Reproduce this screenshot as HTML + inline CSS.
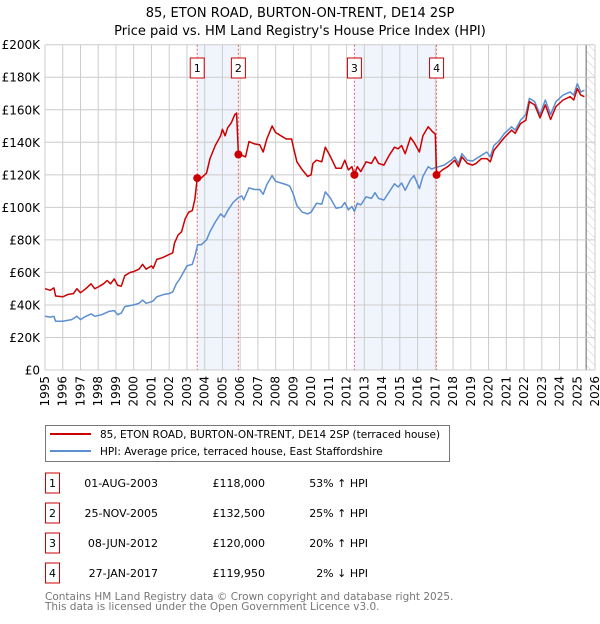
<!DOCTYPE html>
<html><head><meta charset="utf-8">
<style>
body{margin:0;background:#fff;font-family:"DejaVu Sans","Liberation Sans",sans-serif;}
svg text{font-family:"DejaVu Sans","Liberation Sans",sans-serif;}
</style></head>
<body>
<svg id="chart" width="600" height="620" xmlns="http://www.w3.org/2000/svg">
<defs>
<pattern id="hatch" width="6" height="6" patternUnits="userSpaceOnUse" patternTransform="rotate(-45)">
<line x1="0" y1="0" x2="0" y2="6" stroke="#ccc" stroke-width="1"/>
</pattern>
</defs>
<text x="300" y="17" font-size="13" text-anchor="middle">85, ETON ROAD, BURTON-ON-TRENT, DE14 2SP</text>
<text x="300" y="35" font-size="13" text-anchor="middle">Price paid vs. HM Land Registry's House Price Index (HPI)</text>
<g id="plot"></g>
<g>
<rect x="45.5" y="425.5" width="404" height="36" fill="#fff" stroke="#777"/>
<line x1="50" y1="434" x2="91" y2="434" stroke="#cc0000" stroke-width="2"/>
<text x="100" y="438" font-size="10.5">85, ETON ROAD, BURTON-ON-TRENT, DE14 2SP (terraced house)</text>
<line x1="50" y1="451" x2="91" y2="451" stroke="#5b8fd0" stroke-width="2"/>
<text x="100" y="455" font-size="10.5">HPI: Average price, terraced house, East Staffordshire</text>
</g>
<g id="table" font-size="11"></g>
<text x="45" y="600" font-size="10.5" fill="#777">Contains HM Land Registry data © Crown copyright and database right 2025.</text>
<text x="45" y="610" font-size="10.5" fill="#777">This data is licensed under the Open Government Licence v3.0.</text>
</svg>
<script>
const yearTicks=[1995,1996,1997,1998,1999,2000,2001,2002,2003,2004,2005,2006,2007,2008,2009,2010,2011,2012,2013,2014,2015,2016,2017,2018,2019,2020,2021,2022,2023,2024,2025,2026];
const valueTicks=[0,20,40,60,80,100,120,140,160,180,200];
const valueLabels=["£0","£20K","£40K","£60K","£80K","£100K","£120K","£140K","£160K","£180K","£200K"];
const redT=[1995.0,1995.3,1995.5,1995.6,1996,1996.3,1996.6,1996.8,1997,1997.3,1997.6,1997.8,1998,1998.3,1998.5,1998.7,1998.9,1999.1,1999.3,1999.5,1999.8,2000,2000.3,2000.5,2000.7,2001,2001.1,2001.3,2001.6,2002,2002.2,2002.3,2002.5,2002.7,2002.9,2003.1,2003.3,2003.45,2003.58,2003.8,2004.1,2004.3,2004.6,2004.9,2005.0,2005.15,2005.3,2005.5,2005.7,2005.8,2005.9,2006.1,2006.3,2006.5,2006.8,2007.1,2007.3,2007.5,2007.8,2008,2008.3,2008.6,2008.9,2009.0,2009.2,2009.5,2009.8,2010,2010.1,2010.3,2010.6,2010.8,2011.1,2011.4,2011.7,2011.9,2012.1,2012.3,2012.44,2012.6,2012.8,2013.1,2013.4,2013.6,2013.8,2014.1,2014.4,2014.7,2014.9,2015.1,2015.3,2015.6,2015.8,2016.1,2016.3,2016.6,2016.8,2017.0,2017.07,2017.4,2017.7,2017.9,2018.1,2018.3,2018.5,2018.8,2019.1,2019.3,2019.6,2019.9,2020.1,2020.3,2020.6,2020.9,2021.3,2021.5,2021.8,2022.1,2022.3,2022.6,2022.9,2023.2,2023.5,2023.8,2024.2,2024.6,2024.8,2025.0,2025.2,2025.4];
const redV=[50,49,50.5,45.5,45,46.5,47,50,47.5,50,53,50,51,53,55,53,56,52,51.5,58,60,60.5,62,65,62,64,62.5,68,69,71,72,78,83,85,93,97,98,105,118,118,121,130,138,144,148,144,149,152,157,158,132.5,132,131,140.5,139,138.5,134,142,150,146,144,142,142,137,128,123,119,120,127,129,128,137,131,124,124,129,123,125,120,125,122,128,127,131,127,126,132,137,136,138,133,143,140,134,144,149.5,147,145,119.95,123,125,127,129,125,131,127,126,127,130,130,128,135,139,143,147.5,145.5,151.5,153.5,165,163,155,163,154,162,166,168,166,173,169,168];
const blueT=[1995.0,1995.3,1995.5,1995.6,1996,1996.5,1996.8,1997,1997.3,1997.6,1997.8,1998.2,1998.6,1998.9,1999.1,1999.3,1999.5,2000,2000.3,2000.5,2000.7,2001,2001.1,2001.3,2001.7,2002,2002.2,2002.4,2002.6,2002.8,2003.0,2003.3,2003.45,2003.6,2003.8,2004.1,2004.3,2004.6,2004.9,2005.1,2005.3,2005.6,2005.9,2006.1,2006.2,2006.5,2006.8,2007.1,2007.3,2007.5,2007.8,2008,2008.3,2008.6,2008.8,2009.0,2009.2,2009.5,2009.8,2010,2010.3,2010.6,2010.8,2011.1,2011.4,2011.7,2011.9,2012.1,2012.3,2012.44,2012.6,2012.8,2013.1,2013.4,2013.6,2013.8,2014.1,2014.4,2014.7,2014.9,2015.1,2015.3,2015.6,2015.8,2016.1,2016.3,2016.6,2016.8,2017.0,2017.2,2017.5,2017.7,2017.9,2018.1,2018.3,2018.5,2018.8,2019.1,2019.3,2019.6,2019.9,2020.1,2020.3,2020.6,2020.9,2021.3,2021.5,2021.8,2022.1,2022.3,2022.6,2022.9,2023.2,2023.5,2023.8,2024.2,2024.6,2024.8,2025.0,2025.2,2025.4];
const blueV=[33,32.5,33,30,30,31,33,31,33,34.5,33,34,36,36.5,34,35,39,40,41,43,41,42,42.5,45,46.5,47,48,53,56,60,64,65,70,77,77,80,85,91,96,94,98,103,106,107,104.5,112,111,111,108,114,119.5,116,115,114,113,108,101,97,96,97,102.5,102,109.5,105.5,99.5,100,103,98.5,100.5,97.5,102.5,101.5,106.5,105.5,109,105.5,104.5,109.5,114.5,112.5,115,110.5,117,119.5,111.5,119,125,123.5,124.5,125,126,127.5,129,131,127,133,129,128.5,130,132,134,131,138,141,145.5,149.5,147.5,153.5,157,167,165,157,166,157,165,169,171,169,176,171,172];
const saleLabels=["1","2","3","4"];
const saleT=[2003.58,2005.9,2012.44,2017.07];
const saleV=[118,132.5,120,119.95];
const saleDates=["01-AUG-2003","25-NOV-2005","08-JUN-2012","27-JAN-2017"];
const salePrices=["£118,000","£132,500","£120,000","£119,950"];
const saleHpi=["53% ↑ HPI","25% ↑ HPI","20% ↑ HPI","2% ↓ HPI"];

const NS="http://www.w3.org/2000/svg";
const X0=45,X1=595,Y0=370,Y1=44.7;
const x=t=>X0+(t-1995)/(2026-1995)*(X1-X0);
const y=v=>Y0-v/200*(Y0-Y1);
const plot=document.getElementById('plot');
function mk(tag,attrs,parent){const e=document.createElementNS(NS,tag);for(const k in attrs)e.setAttribute(k,attrs[k]);(parent||plot).appendChild(e);return e;}

for(let i=0;i<saleT.length;i+=2){
  const r=mk('rect',{x:x(saleT[i]),y:Y1,width:x(saleT[i+1])-x(saleT[i]),height:Y0-Y1,fill:'#f0f4fc'});
  
  
}
const hx=x(2025.5);
const hr=mk('rect',{x:hx,y:Y1,width:X1-hx,height:Y0-Y1,fill:'url(#hatch)'});


mk('line',{x1:hx,y1:Y1,x2:hx,y2:Y0,stroke:'#666','stroke-width':1});

yearTicks.forEach(t=>{
  const l=mk('line',{x1:x(t),y1:Y1,x2:x(t),y2:Y0,stroke:'#ccc','stroke-width':1});
  
  
  const tx=mk('text',{x:0,y:0,'font-size':12,'text-anchor':'end',transform:`translate(${x(t)+4},${Y0+6}) rotate(-90)`});
  tx.textContent=t;
  
  
});
valueTicks.forEach((v,i)=>{
  const l=mk('line',{x1:X0,y1:y(v),x2:X1,y2:y(v),stroke:'#ccc','stroke-width':1});
  
  
  const tx=mk('text',{x:X0-5,y:y(v)+4.5,'font-size':12,'text-anchor':'end'});
  tx.textContent=valueLabels[i];
  
  
});

saleT.forEach((t,i)=>{
  const l=mk('line',{x1:x(t),y1:Y1,x2:x(t),y2:Y0,stroke:'#e06060','stroke-width':1,'stroke-dasharray':'2,2'});
  
  
  const g=mk('g',{});
  
  
  mk('rect',{x:x(t)-7,y:58,width:14,height:20,fill:'#fff',stroke:'#cc0000'},g);
  const tx=mk('text',{x:x(t),y:72,'font-size':11,'text-anchor':'middle'},g);
  tx.textContent=saleLabels[i];
});

function path(T,V,color,name){
  const d=T.map((t,i)=>(i?'L':'M')+x(t).toFixed(1)+','+y(V[i]).toFixed(1)).join('');
  const p=mk('path',{d:d,fill:'none',stroke:color,'stroke-width':1.5,'stroke-linejoin':'round'});
  
  
}
path(blueT,blueV,'#5b8fd0','hpi-line');
path(redT,redV,'#cc0000','price-paid-line');
saleT.forEach((t,i)=>{
  const c=mk('circle',{cx:x(t),cy:y(saleV[i]),r:4,fill:'#cc0000'});
  
  
});

const tb=document.getElementById('table');
saleLabels.forEach((s,i)=>{
  const cy=483+i*30;
  const g=mk('g',{},tb);
  
  
  mk('rect',{x:45.5,y:cy-10,width:14,height:20,fill:'#fff',stroke:'#cc0000'},g);
  let t=mk('text',{x:52.5,y:cy+4,'text-anchor':'middle'},g);t.textContent=s;
  t=mk('text',{x:158,y:cy+4,'text-anchor':'end'},g);t.textContent=saleDates[i];
  t=mk('text',{x:265,y:cy+4,'text-anchor':'end'},g);t.textContent=salePrices[i];
  t=mk('text',{x:368,y:cy+4,'text-anchor':'end'},g);t.textContent=saleHpi[i];
});
</script>
</body></html>
